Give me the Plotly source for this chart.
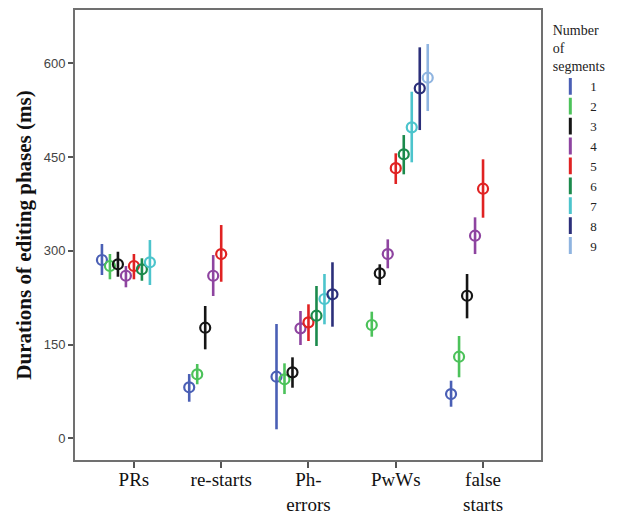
import plotly.graph_objects as go

# Editing phases shown along the x axis
phases = ["PRs", "re-starts", "Ph-<br>errors", "PwWs", "false<br>starts"]

# Number of segments (one series each)
segments = ["1", "2", "3", "4", "5", "6", "7", "8", "9"]

# Mean durations (ms); rows = segments 1..9, columns = phases; None = not observed
means = [
    [285.2, 81.6, 98.5, None, 70.8],
    [275.6, 102.4, 94.4, 181.2, 130.5],
    [278.3, 176.9, 105.5, 263.9, 228.0],
    [260.0, 260.0, 175.9, 294.7, 324.0],
    [275.6, 294.7, 185.5, 432.1, 399.2],
    [270.3, None, 196.1, 454.2, None],
    [281.5, None, 222.8, 497.3, None],
    [None, None, 230.3, 559.7, None],
    [None, None, None, 576.7, None],
]

# Lower ends of the error bars (ms)
lower = [
    [261.2, 58.5, 14.4, None, 50.5],
    [254.3, 86.4, 70.8, 162.5, 97.6],
    [258.4, 142.3, 80.9, 245.2, 191.9],
    [241.5, 227.6, 149.2, 271.9, 294.7],
    [254.3, 250.4, 155.6, 406.7, 352.8],
    [252.0, None, 147.6, 422.2, None],
    [245.2, None, 182.3, 441.4, None],
    [None, None, 178.5, 493.0, None],
    [None, None, None, 523.4, None],
]

# Upper ends of the error bars (ms)
upper = [
    [310.8, 102.8, 182.8, None, 92.1],
    [294.8, 118.8, 119.9, 202.5, 163.6],
    [298.4, 211.6, 129.5, 278.3, 262.8],
    [275.5, 293.1, 203.6, 318.2, 353.4],
    [294.8, 341.1, 214.3, 455.8, 446.2],
    [287.9, None, 243.6, 485.0, None],
    [317.1, None, 262.8, 554.3, None],
    [None, None, 281.5, 625.3, None],
    [None, None, None, 630.6, None],
]

colors = ["#4a5fb5", "#4cc25a", "#151515", "#8e44a0", "#e02222",
          "#1b8a4c", "#4cc4cc", "#2b2f7a", "#8fb4e0"]

y_ticks = [0, 150, 300, 450, 600]

serif = "Liberation Serif, Times New Roman, serif"
dodge = 0.0916  # horizontal spacing between neighbouring segment counts

fig = go.Figure()

for k, seg in enumerate(segments):
    c = colors[k]
    xs, ys, plus, minus = [], [], [], []
    for i in range(len(phases)):
        m = means[k][i]
        if m is None:
            continue
        xs.append(i + (k - 4) * dodge)
        ys.append(m)
        plus.append(upper[k][i] - m)
        minus.append(m - lower[k][i])
    fig.add_trace(go.Scatter(
        x=xs, y=ys, mode="markers", name=seg, legendgroup=seg, showlegend=False,
        marker=dict(symbol="circle-open", size=10, color=c, line=dict(width=2.2, color=c)),
        error_y=dict(type="data", symmetric=False, array=plus, arrayminus=minus,
                     color=c, thickness=2.6, width=0),
    ))
    # legend key drawn as a vertical bar
    fig.add_trace(go.Scatter(
        x=[None], y=[None], mode="markers", name=seg, legendgroup=seg, showlegend=True,
        marker=dict(symbol="line-ns-open", size=12, color=c, line=dict(width=3, color=c)),
    ))

fig.update_layout(
    width=623, height=515,
    margin=dict(l=75, r=82, t=10, b=55),
    paper_bgcolor="white", plot_bgcolor="white",
    xaxis=dict(
        range=[-0.675, 4.664], automargin=False,
        tickmode="array", tickvals=list(range(len(phases))), ticktext=phases,
        ticks="outside", ticklen=6, tickwidth=1.5, tickcolor="#555",
        ticklabelstandoff=-5,
        showline=True, mirror=True, linecolor="#707070", linewidth=2,
        showgrid=False, zeroline=False,
        tickfont=dict(family=serif, size=19, color="#111"),
    ),
    yaxis=dict(
        range=[-34.7, 685], automargin=False,
        tickmode="array", tickvals=y_ticks,
        ticks="outside", ticklen=5, tickwidth=1.5, tickcolor="#555",
        showline=True, mirror=True, linecolor="#707070", linewidth=2,
        showgrid=False, zeroline=False,
        tickfont=dict(family="Liberation Sans", size=13, color="#444"),
        title=dict(text="<b>Durations of editing phases (ms)</b>",
                   font=dict(family=serif, size=21, color="#111"), standoff=6),
    ),
    legend=dict(
        x=1.02, xanchor="left", y=0.985, yanchor="top",
        font=dict(family=serif, size=13, color="#222"),
        title=dict(text="Number<br>of<br>segments", side="top center",
                   font=dict(family=serif, size=14, color="#222")),
        tracegroupgap=0, itemwidth=30,
        bgcolor="rgba(0,0,0,0)",
    ),
)

fig.write_html("out.html")
